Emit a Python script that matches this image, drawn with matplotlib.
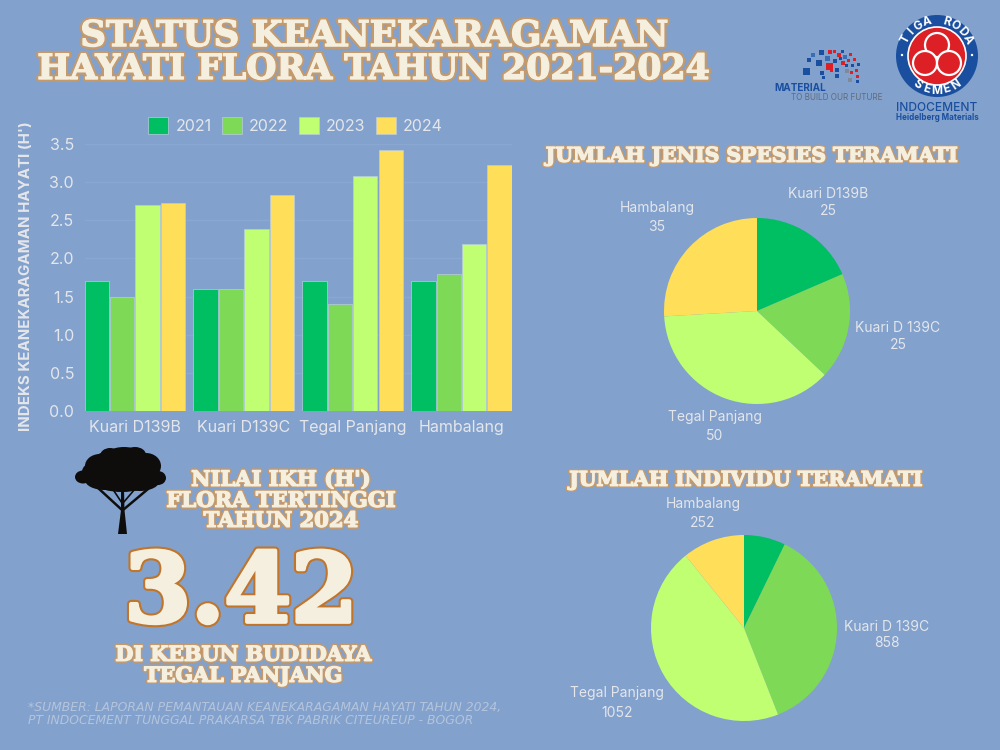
import numpy as np
import matplotlib
matplotlib.use("Agg")
import matplotlib.pyplot as plt
import matplotlib.patheffects as pe
from matplotlib.patches import Circle, Ellipse, Polygon, Rectangle

# data
sites = ["Kuari D139B", "Kuari D139C", "Tegal Panjang", "Hambalang"]
years = ["2021", "2022", "2023", "2024"]
h_2021 = [1.7, 1.6, 1.7, 1.7]
h_2022 = [1.5, 1.6, 1.4, 1.8]
h_2023 = [2.7, 2.38, 3.08, 2.19]
h_2024 = [2.73, 2.83, 3.42, 3.23]
yticks = [0.0, 0.5, 1.0, 1.5, 2.0, 2.5, 3.0, 3.5]

species_labels = ["Kuari D139B", "Kuari D 139C", "Tegal Panjang", "Hambalang"]
species_counts = [25, 25, 50, 35]
individu_labels = ["", "Kuari D 139C", "Tegal Panjang", "Hambalang"]
individu_counts = [168, 858, 1052, 252]

# style
BG = "#82A1CD"
COLORS = ["#00BF63", "#7ED957", "#C1FF72", "#FFDE59"]
LIGHT = "#E4E6EA"
CREAM = "#F5EFDF"
TAN = "#C49A6C"
BLUE = "#1A4F9F"
RED = "#DD2025"
SANS = "Inter"
SLAB = "DejaVu Serif"

W, H = 1000, 750
fig = plt.figure(figsize=(10, 7.5), dpi=100, facecolor=BG)


def px_axes(left, top, right, bottom, **kw):
    return fig.add_axes([left / W, 1 - bottom / H, (right - left) / W, (bottom - top) / H], **kw)


# overlay in pixel coordinates, for headings and decoration
ov = fig.add_axes([0, 0, 1, 1], zorder=5)
ov.set_xlim(0, W)
ov.set_ylim(H, 0)
ov.axis("off")
ov.patch.set_alpha(0)


def slab(x, y, s, size, stroke=TAN, lw=3.0, fat=1.0):
    # outline first, then a cream stroke to fatten the letters
    ov.text(x, y + size * 0.12, s, family=SLAB, weight="bold", fontsize=size, color=CREAM,
            ha="center", va="center",
            path_effects=[pe.withStroke(linewidth=lw, foreground=stroke),
                          pe.withStroke(linewidth=fat, foreground=CREAM)])


# bar chart
ax = px_axes(84.5, 144, 511.8, 411)
ax.set_facecolor("none")
x = np.arange(len(sites))
step = 25.4 / 108.9
for i, vals in enumerate([h_2021, h_2022, h_2023, h_2024]):
    ax.bar(x + (i - 1.5) * step, vals, width=24.3 / 108.9, color=COLORS[i],
           edgecolor="#B9CBE0", linewidth=0.5, label=years[i], zorder=3)
ax.set_xlim(-0.4618, 3.4618)
ax.set_ylim(0, 3.5)
ax.set_yticks(yticks)
ax.set_yticklabels([f"{v:.1f}" for v in yticks])
ax.set_xticks(x)
ax.set_xticklabels(sites)
ax.tick_params(length=0, labelsize=11.5, labelcolor=LIGHT)
ax.tick_params(axis="x", pad=6.5)
ax.tick_params(axis="y", pad=7.5)
for lab in ax.get_xticklabels() + ax.get_yticklabels():
    lab.set_family(SANS)
ax.grid(axis="y", color="#89A7D0", linewidth=1, zorder=0)
for s in ax.spines.values():
    s.set_visible(False)
ax.set_ylabel("INDEKS KEANEKARAGAMAN HAYATI (H')", family=SANS, weight="bold",
              fontsize=10.9, color=LIGHT)
ax.yaxis.set_label_coords(-0.12, 0.507)
ax.legend(loc="center", bbox_to_anchor=(0.494, 1.07), ncol=4, frameon=False,
          prop={"family": SANS, "size": 11.5}, labelcolor=LIGHT, handlelength=1.25,
          handleheight=1.25, columnspacing=0.65, handletextpad=0.45)


# pies
def draw_pie(cx, cy, r, counts):
    a = px_axes(cx - r, cy - r, cx + r, cy + r)
    a.pie(counts, colors=COLORS, startangle=90, counterclock=False, radius=1)
    a.set_xlim(-1, 1)
    a.set_ylim(-1, 1)


def pie_label(x, y, name, val, gap):
    ov.text(x, y, name, family=SANS, fontsize=10, color=LIGHT, ha="center", va="center")
    ov.text(x, y + gap, str(val), family=SANS, fontsize=10, color=LIGHT, ha="center", va="center")


draw_pie(757, 311, 93, species_counts)
draw_pie(744, 628, 93, individu_counts)

for px, py, g, n, c in zip([828, 898, 715, 657], [194, 328, 417, 208], [17, 17, 19, 19], species_labels, species_counts):
    pie_label(px, py, n, c, g)
for px, py, g, n, c in zip([887, 617, 703], [627, 693, 504], [16, 20, 19], individu_labels[1:], individu_counts[1:]):
    pie_label(px, py, n, c, g)

# headings
slab(374, 33, "STATUS KEANEKARAGAMAN", 25.6, lw=4)
slab(374, 66, "HAYATI FLORA TAHUN 2021-2024", 25, lw=4)
slab(752, 154, "JUMLAH JENIS SPESIES TERAMATI", 14.6)
slab(746, 478, "JUMLAH INDIVIDU TERAMATI", 14.6)
slab(281, 478, "NILAI IKH (H')", 15.2)
slab(281, 499, "FLORA TERTINGGI", 15.2)
slab(281, 519, "TAHUN 2024", 15.2)
slab(241, 587, "3.42", 69, stroke="#C0752A", lw=6, fat=3)
slab(243, 653, "DI KEBUN BUDIDAYA", 14.9)
slab(243, 674, "TEGAL PANJANG", 14.9)

ov.text(28, 708, "*SUMBER: LAPORAN PEMANTAUAN KEANEKARAGAMAN HAYATI TAHUN 2024,", family="DejaVu Sans",
        style="italic", fontsize=8.9, color="#B4C4DC", va="center")
ov.text(28, 721, "PT INDOCEMENT TUNGGAL PRAKARSA TBK PABRIK CITEUREUP - BOGOR", family="DejaVu Sans",
        style="italic", fontsize=8.9, color="#B4C4DC", va="center")

# tree
TREE = "#0F0D0C"
for ex, ey, ew, eh in [(122, 470, 72, 42), (124, 459, 42, 24), (100, 466, 30, 24), (146, 466, 30, 26),
                       (83, 477, 16, 13), (158, 478, 16, 14), (105, 480, 40, 20), (140, 480, 40, 22),
                       (110, 456, 20, 16), (135, 455, 22, 16), (92, 472, 20, 18), (122, 484, 50, 16)]:
    ov.add_patch(Ellipse((ex, ey), ew, eh, color=TREE, lw=0))
ov.add_patch(Polygon([(118, 534), (127, 534), (124.5, 510), (124, 488), (121, 488), (121, 510)], color=TREE, lw=0))
for x0, y0, x1, y1, lw in [(122, 510, 97, 487, 1.8), (123, 510, 148, 489, 1.8),
                           (122, 503, 112, 488, 1.2), (123, 503, 135, 489, 1.2)]:
    ov.plot([x0, x1], [y0, y1], color=TREE, lw=lw, solid_capstyle="round")

# tiga roda logo
LX, LY = 937, 56
ov.add_patch(Circle((LX, LY), 41, color=BLUE, lw=0))
ov.add_patch(Circle((LX, LY), 29, facecolor=RED, edgecolor="white", lw=1.2))
for dx, dy in [(0, -11), (-12, 7), (12, 7)]:
    ov.add_patch(Circle((LX + dx, LY + dy), 12, facecolor=RED, edgecolor="white", lw=1.6))
for dx in [-35, 35]:
    ov.add_patch(Circle((LX + dx, LY - 1), 1.2, color="white", lw=0))


def ring_text(s, mid_deg, step_deg, r, top=True):
    n = len(s)
    for i, ch in enumerate(s):
        off = (i - (n - 1) / 2) * step_deg
        ang = mid_deg - off if top else mid_deg + off
        t = np.radians(ang)
        rot = ang - 90 if top else ang + 90
        ov.text(LX + r * np.cos(t), LY - r * np.sin(t), ch, family=SANS, weight="bold", fontsize=8.5,
                color="white", ha="center", va="center", rotation=rot, rotation_mode="anchor")


ring_text("TIGA RODA", 90, 15.5, 35)
ring_text("SEMEN", 270, 17, 35, top=False)
ov.text(LX, 108, "INDOCEMENT", family=SANS, weight="medium", fontsize=8.6, color=BLUE, ha="center", va="center")
ov.text(LX, 118, "Heidelberg Materials", family=SANS, weight="bold", fontsize=5.8, color=BLUE, ha="center", va="center")

# material logo
squares = [(803, 68, 7, BLUE), (807, 58, 4, BLUE), (816, 60, 6, BLUE), (811, 53, 4, "#3B6DB5"), (819, 50, 5, BLUE),
           (825, 56, 5, "#3B6DB5"), (828, 50, 4, RED), (826, 63, 7, RED), (820, 71, 4, BLUE), (833, 59, 4, BLUE),
           (837, 53, 4, RED), (843, 55, 4, "#3B6DB5"), (835, 68, 4, BLUE), (841, 61, 4, RED), (847, 59, 3, RED),
           (851, 64, 3, BLUE), (845, 69, 4, "#7F8A99"), (835, 74, 4, BLUE), (822, 76, 3, BLUE), (850, 71, 3, RED),
           (855, 69, 3, RED), (856, 75, 3, RED), (848, 78, 4, "#7F8A99"), (856, 80, 3, BLUE), (833, 50, 3, RED),
           (841, 50, 3, BLUE), (849, 53, 3, RED), (853, 58, 3, RED), (857, 63, 3, BLUE), (839, 57, 3, BLUE),
           (845, 64, 3, BLUE), (830, 69, 3, RED)]
for sx, sy, ss, sc in squares:
    ov.add_patch(Rectangle((sx, sy), ss, ss, color=sc, lw=0))
ov.text(774, 88, "MATERIAL", family=SANS, weight="bold", fontsize=7.2, color=BLUE, va="center")
ov.text(791, 97, "TO BUILD OUR FUTURE", family=SANS, fontsize=5.8, color="#5F6B7C", va="center")

fig.savefig("out.png", dpi=100, facecolor=BG)
